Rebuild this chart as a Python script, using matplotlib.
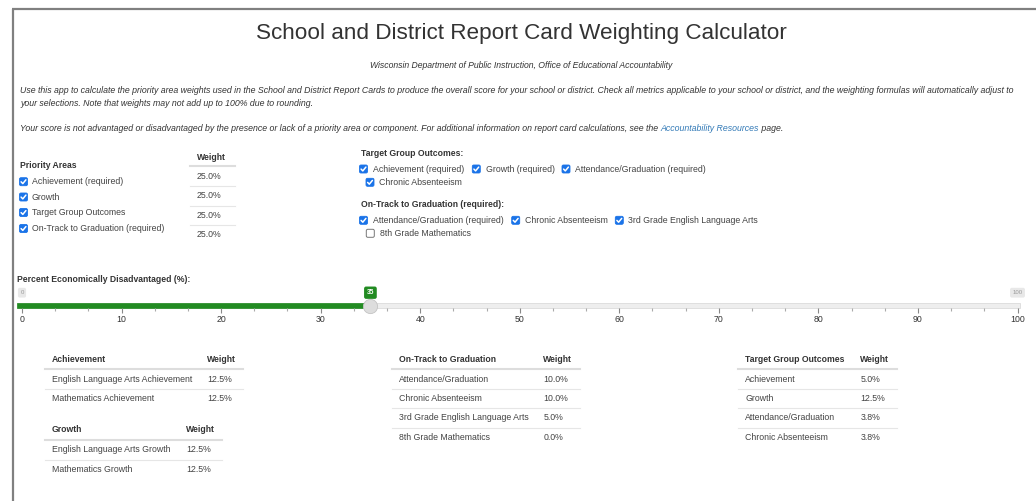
import numpy as np
import matplotlib
matplotlib.use('Agg')
import matplotlib.pyplot as plt
from matplotlib.patches import FancyBboxPatch, Rectangle

plt.rcParams['font.family'] = ['Liberation Sans', 'DejaVu Sans']

# ---- data ----
title = 'School and District Report Card Weighting Calculator'
subtitle = 'Wisconsin Department of Public Instruction, Office of Educational Accountability'
intro_1 = ('Use this app to calculate the priority area weights used in the School and District Report Cards '
           'to produce the overall score for your school or district. Check all metrics applicable to your '
           'school or district, and the weighting formulas will automatically adjust to')
intro_2 = 'your selections. Note that weights may not add up to 100% due to rounding.'
intro_3 = ('Your score is not advantaged or disadvantaged by the presence or lack of a priority area or '
           'component. For additional information on report card calculations, see the ')
link_text = 'Accountability Resources'
intro_4 = ' page.'

priority_areas = ['Achievement (required)', 'Growth', 'Target Group Outcomes',
                  'On-Track to Graduation (required)']
priority_checked = [True, True, True, True]
priority_weights = [25.0, 25.0, 25.0, 25.0]

tgo_options = ['Achievement (required)', 'Growth (required)',
               'Attendance/Graduation (required)', 'Chronic Absenteeism']
tgo_checked = [True, True, True, True]
otg_options = ['Attendance/Graduation (required)', 'Chronic Absenteeism',
               '3rd Grade English Language Arts', '8th Grade Mathematics']
otg_checked = [True, True, True, False]

slider_label = 'Percent Economically Disadvantaged (%):'
slider_min = 0
slider_max = 100
pct_econ = 35

achievement_rows = ['English Language Arts Achievement', 'Mathematics Achievement']
achievement_weights = [12.5, 12.5]
growth_rows = ['English Language Arts Growth', 'Mathematics Growth']
growth_weights = [12.5, 12.5]
otg_rows = ['Attendance/Graduation', 'Chronic Absenteeism',
            '3rd Grade English Language Arts', '8th Grade Mathematics']
otg_weights = [10.0, 10.0, 5.0, 0.0]
tgo_rows = ['Achievement', 'Growth', 'Attendance/Graduation', 'Chronic Absenteeism']
tgo_weights = [5.0, 12.5, 3.8, 3.8]

# ---- style ----
TXT = '#333333'
BODY = '#444444'
BLUE = '#1a73e8'
GREEN = '#228b22'
LINE = '#dddddd'
FS = 6.3      # body text
FSB = 6.2     # bold headers
FSI = 6.33    # italic intro

W, H = 1036, 501
fig = plt.figure(figsize=(W / 100, H / 100), dpi=100)
ax = fig.add_axes([0, 0, 1, 1])
ax.set_xlim(0, W)
ax.set_ylim(H, 0)
ax.axis('off')


def txt(x, y, s, **kw):
    kw.setdefault('fontsize', FS)
    kw.setdefault('color', BODY)
    kw.setdefault('va', 'center')
    kw.setdefault('ha', 'left')
    return ax.text(x, y, s, **kw)


def bold(x, y, s):
    return txt(x, y, s, weight='bold', color=TXT, fontsize=FSB)


def checkbox(x, y, checked):
    if checked:
        ax.add_patch(FancyBboxPatch((x - 4, y - 4), 8, 8, boxstyle='round,pad=0,rounding_size=1.5',
                                    fc=BLUE, ec=BLUE, lw=0.6))
        ax.plot([x - 2.4, x - 0.7, x + 2.4], [y + 0.1, y + 1.9, y - 1.9], color='white', lw=1.1,
                solid_capstyle='round')
    else:
        ax.add_patch(FancyBboxPatch((x - 4, y - 4), 8, 8, boxstyle='round,pad=0,rounding_size=1.5',
                                    fc='white', ec='#767676', lw=0.7))


def table(x0, x1, xw, y_head, header, rows, weights, rh=19.5):
    bold(x0 + 7, y_head, header)
    bold(xw, y_head, 'Weight')
    ax.plot([x0, x1], [y_head + 10, y_head + 10], color=LINE, lw=1.5)
    for i, (r, w) in enumerate(zip(rows, weights)):
        y = y_head + 20 + i * rh
        txt(x0 + 7, y, r)
        txt(xw + 0.5, y, f'{w:.1f}%')
        if i < len(rows) - 1:
            ax.plot([x0, x1], [y + rh / 2, y + rh / 2], color='#e6e6e6', lw=0.8)


# page border
ax.plot([12, W], [9, 9], color='#808080', lw=1.6, solid_capstyle='butt')
ax.plot([13, 13], [9, H], color='#808080', lw=1.6, solid_capstyle='butt')

# header
txt(521, 33, title, fontsize=16.2, ha='center', color=TXT)
txt(521, 65, subtitle, fontsize=6.2, ha='center', style='italic', color=TXT)
txt(20, 90, intro_1, fontsize=FSI, style='italic', color=TXT)
txt(20, 103, intro_2, fontsize=FSI, style='italic', color=TXT)
t3 = txt(20, 128, intro_3, fontsize=FSI, style='italic', color=TXT)
t4 = ax.annotate(link_text, xy=(1, 0), xycoords=t3, va='bottom', ha='left',
                 fontsize=FSI, style='italic', color='#337ab7')
ax.annotate(intro_4, xy=(1, 0), xycoords=t4, va='bottom', ha='left',
            fontsize=FSI, style='italic', color=TXT)

# priority areas
bold(20, 166, 'Priority Areas')
bold(197, 157, 'Weight')
ax.plot([190, 235], [166, 166], color=LINE, lw=1.5)
cb_y = [181.7, 197, 212.5, 228.5]
wt_y = [176.5, 196, 215, 234.3]
for i, (lab, chk, w) in enumerate(zip(priority_areas, priority_checked, priority_weights)):
    checkbox(23.5, cb_y[i], chk)
    txt(32, cb_y[i], lab)
    txt(197, wt_y[i], f'{w:.1f}%')
    if i < len(priority_areas) - 1:
        ax.plot([190, 235], [(wt_y[i] + wt_y[i + 1]) / 2] * 2, color='#e6e6e6', lw=0.8)

# target group outcomes options
bold(361, 154, 'Target Group Outcomes:')
tgo_pos = [(363.5, 169), (476.3, 169), (566, 169), (370, 182.3)]
for (x, y), lab, chk in zip(tgo_pos, tgo_options, tgo_checked):
    checkbox(x, y, chk)
    txt(x + 9.2, y, lab)

bold(361, 204.3, 'On-Track to Graduation (required):')
otg_pos = [(363.5, 220.3), (515.7, 220.3), (619.3, 220.3), (370.3, 233.3)]
for (x, y), lab, chk in zip(otg_pos, otg_options, otg_checked):
    checkbox(x, y, chk)
    txt(x + 9.2, y, lab)

# slider
bold(17, 279.3, slider_label)
x_lo, x_hi = 22, 1017.5
axs = fig.add_axes([x_lo / W, 1 - 308.3 / H, (x_hi - x_lo) / W, 14 / H])
axs.patch.set_visible(False)
axs.set_xlim(slider_min, slider_max)
axs.set_ylim(308.3, 294.3)
for sp in axs.spines.values():
    sp.set_visible(False)
axs.set_yticks([])
axs.set_xticks(np.arange(slider_min, slider_max + 1, 10))
minor = [v for v in np.arange(slider_min, slider_max + 0.01, 10 / 3) if abs(v / 10 - round(v / 10)) > 0.01]
axs.set_xticks(minor, minor=True)
axs.tick_params(axis='x', which='major', length=3.4, width=0.8, color='#888888',
                labelsize=FS, labelcolor=TXT, pad=1.2)
axs.tick_params(axis='x', which='minor', length=2.0, width=0.8, color='#aaaaaa')
axs.add_patch(Rectangle((slider_min - 0.5, 303.4), slider_max - slider_min + 0.75, 4.6,
                        fc='#eeeeee', ec='#d6d6d6', lw=0.5, clip_on=False))
axs.add_patch(Rectangle((slider_min - 0.5, 303.4), pct_econ + 0.5, 4.6,
                        fc=GREEN, ec=GREEN, lw=0.5, clip_on=False))
axs.scatter([pct_econ], [305.7], s=105, c='#dddddd', edgecolors='#c4c4c4', linewidths=0.6,
            zorder=5, clip_on=False)
axs.text(slider_min, 292.7, str(slider_min), fontsize=4.3, color='#999999', ha='center', va='center',
         bbox=dict(boxstyle='round,pad=0.4,rounding_size=0.3', fc='#e8e8e8', ec='none'), clip_on=False)
axs.text(slider_max, 292.7, str(slider_max), fontsize=4.3, color='#999999', ha='center', va='center',
         bbox=dict(boxstyle='round,pad=0.4,rounding_size=0.3', fc='#e8e8e8', ec='none'), clip_on=False)
axs.text(pct_econ, 292.7, str(pct_econ), fontsize=4.8, color='white', weight='bold', ha='center',
         va='center', bbox=dict(boxstyle='round,pad=0.4,rounding_size=0.3', fc=GREEN, ec='none'),
         clip_on=False)

# result tables
table(45, 243, 207, 359, 'Achievement', achievement_rows, achievement_weights)
table(45, 222, 186, 430, 'Growth', growth_rows, growth_weights)
table(392, 580, 543, 359, 'On-Track to Graduation', otg_rows, otg_weights)
table(738, 897, 860, 359, 'Target Group Outcomes', tgo_rows, tgo_weights)

fig.savefig('out.png', dpi=100)
